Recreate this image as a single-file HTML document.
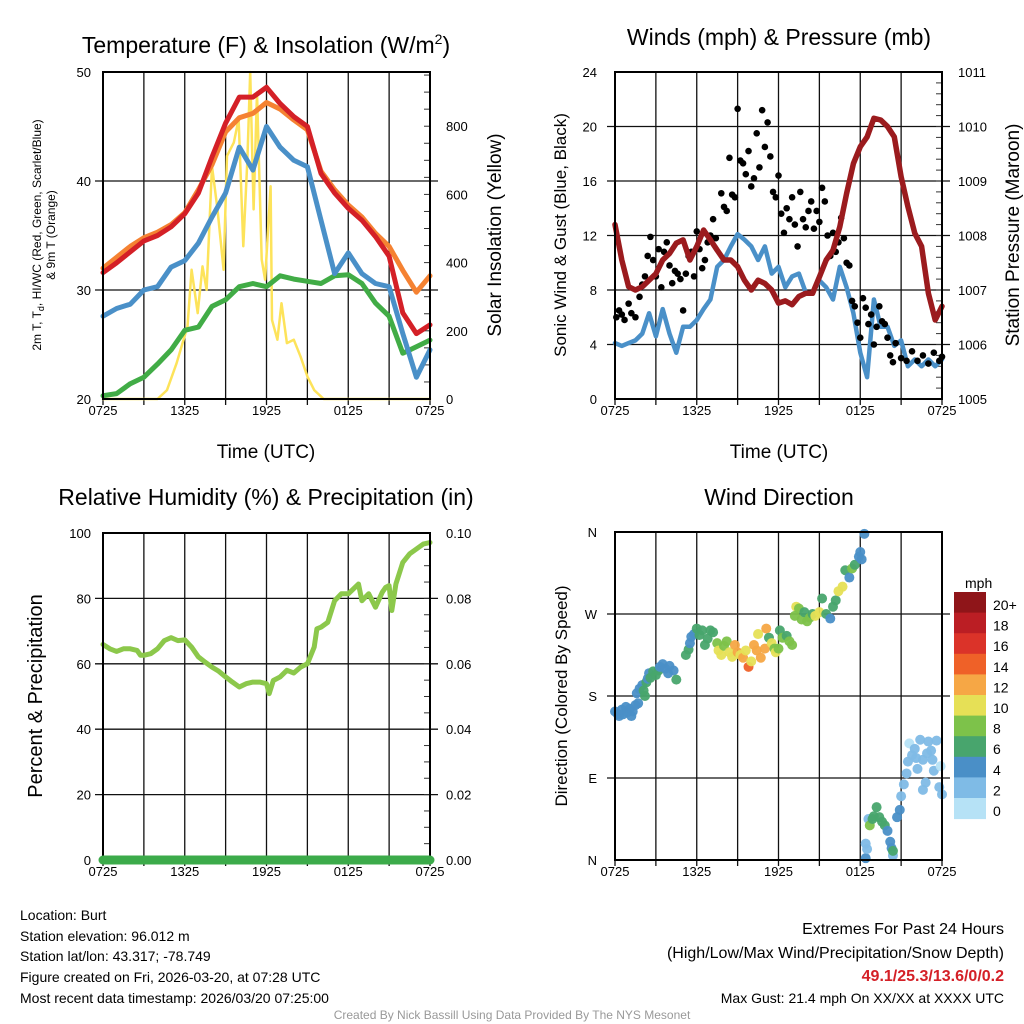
<!DOCTYPE html>
<html><head><meta charset="utf-8">
<style>
html,body{margin:0;padding:0;background:#fff;}
svg{display:block;font-family:"Liberation Sans",sans-serif;}
</style></head>
<body>
<svg id="c" width="1024" height="1024" viewBox="0 0 1024 1024" xmlns="http://www.w3.org/2000/svg">
<rect width="1024" height="1024" fill="#fff"/>
<g id="layer"></g>
<text x="266" y="53" font-size="23" text-anchor="middle">Temperature (F) &amp; Insolation (W/m<tspan dy="-9" font-size="14">2</tspan><tspan dy="9">)</tspan></text>
<text x="779" y="45" font-size="23" text-anchor="middle">Winds (mph) &amp; Pressure (mb)</text>
<text x="266" y="505" font-size="23" text-anchor="middle">Relative Humidity (%) &amp; Precipitation (in)</text>
<text x="779" y="505" font-size="23" text-anchor="middle">Wind Direction</text>
<text x="266" y="458" font-size="19" text-anchor="middle">Time (UTC)</text>
<text x="779" y="458" font-size="19" text-anchor="middle">Time (UTC)</text>
<g font-size="12">
<text transform="translate(41,235) rotate(-90)" text-anchor="middle">2m T, T<tspan dy="3" font-size="9">d</tspan><tspan dy="-3">, HI/WC (Red, Green, Scarlet/Blue)</tspan></text>
<text transform="translate(55,235) rotate(-90)" text-anchor="middle">&amp; 9m T (Orange)</text>
</g>
<text transform="translate(501,235) rotate(-90)" font-size="19" text-anchor="middle">Solar Insolation (Yellow)</text>
<text transform="translate(566,235) rotate(-90)" font-size="17" text-anchor="middle">Sonic Wind &amp; Gust (Blue, Black)</text>
<text transform="translate(1019,235) rotate(-90)" font-size="19" text-anchor="middle">Station Pressure (Maroon)</text>
<text transform="translate(42,696) rotate(-90)" font-size="20" text-anchor="middle">Percent &amp; Precipitation</text>
<text transform="translate(567,696) rotate(-90)" font-size="17" text-anchor="middle">Direction (Colored By Speed)</text>
<text x="965" y="588" font-size="14">mph</text>
<g font-size="14">
<text x="20" y="920">Location: Burt</text>
<text x="20" y="941">Station elevation: 96.012 m</text>
<text x="20" y="961">Station lat/lon: 43.317; -78.749</text>
<text x="20" y="982">Figure created on Fri, 2026-03-20, at 07:28 UTC</text>
<text x="20" y="1003">Most recent data timestamp: 2026/03/20 07:25:00</text>
</g>
<g text-anchor="end">
<text x="1004" y="934" font-size="16">Extremes For Past 24 Hours</text>
<text x="1004" y="958" font-size="16">(High/Low/Max Wind/Precipitation/Snow Depth)</text>
<text x="1004" y="981" font-size="16" font-weight="bold" fill="#d42027">49.1/25.3/13.6/0/0.2</text>
<text x="1004" y="1003" font-size="14">Max Gust: 21.4 mph On XX/XX at XXXX UTC</text>
</g>
<text x="512" y="1019" font-size="12" fill="#999" text-anchor="middle">Created By Nick Bassill Using Data Provided By The NYS Mesonet</text>
</svg>
<script>
const hours = [0,1,2,3,4,5,6,7,8,9,10,11,12,13,14,15,16,17,18,19,20,21,22,23,24];
const tempRed = [31.6,32.5,33.5,34.5,35,35.8,37,38.9,42.2,45.3,47.7,47.7,48.6,47.1,45.9,45,40.7,38.9,37.5,36.4,34.9,33.1,27.9,26,26.8];
const tempOrange = [32,33,34,34.8,35.3,36,37.1,39.2,41.5,44.5,45.8,46.2,47.2,46.6,45.6,44.7,40.9,39.2,37.8,36.7,35.2,34,31.8,29.8,31.3];
const tempBlue = [27.6,28.3,28.7,30,30.3,32.1,32.7,34.3,36.7,38.9,43.1,41,45,43.1,41.9,41.3,36.4,31.5,33.4,31.5,30.6,30.3,26,22,24.5];
const dewGreen = [20.3,20.5,21.4,22,23.2,24.5,26.3,26.6,28.5,29.1,30.3,30.6,30.3,31.3,31,30.8,30.6,31.3,31.4,30.6,28.8,27.6,24.2,24.8,25.4];
const solarHours = [0,4,4.7,5.4,6.2,6.5,6.95,7.3,7.6,8,8.4,8.85,9.1,9.6,9.95,10.3,10.6,10.8,11.05,11.3,11.65,11.9,12.3,12.4,12.8,13.1,13.5,14,14.5,15,15.5,16.2,24];
const solarWm2 = [0,0,26,105,213,379,252,389,320,683,556,379,713,752,821,448,703,959,556,899,409,350,624,232,174,281,164,174,124,66,26,0,0];
const presHours = [0,0.5,1,1.5,2,2.5,3,3.5,4,4.5,5,5.5,6,6.5,7,7.5,8,8.5,9,9.5,10,10.5,11,11.5,12,12.5,13,13.5,14,14.5,15,15.5,16,16.5,17,17.5,18,18.5,19,19.5,20,20.5,21,21.5,22,22.5,23,23.5,24];
const pressureMb = [1008.2,1007.55,1007.06,1007,1007.06,1007.18,1007.3,1007.55,1007.67,1007.86,1007.92,1007.55,1007.8,1008.1,1007.92,1007.73,1007.55,1007.55,1007.43,1007.18,1007,1007.18,1007.12,1007,1006.76,1006.8,1006.73,1006.88,1006.94,1006.94,1007.24,1007.55,1007.73,1008.16,1008.77,1009.32,1009.63,1009.81,1010.15,1010.12,1010,1009.81,1009.08,1008.53,1008.04,1007.8,1006.94,1006.45,1006.7];
const windMph = [4.1,3.9,4.1,4.3,4.8,6.3,4.6,6.6,4.8,3.4,5.3,5.3,5.8,6.6,7.3,9.7,10.2,11.2,12.1,11.7,11.2,10.2,11.2,9.2,9.7,8.2,9,9.2,7.8,7.8,8.7,8.2,7.3,9.7,8.2,6.3,3.4,1.6,7.3,5.3,5.3,3.9,4.3,2.4,2.9,2.4,2.9,2.4,2.9];
const gustHours = [0.1,0.3,0.5,0.7,1,1.2,1.5,1.8,2,2.2,2.4,2.6,2.8,3,3.2,3.4,3.6,3.8,4,4.2,4.4,4.6,4.8,5,5.2,5.4,5.6,5.8,6,6.2,6.4,6.6,6.8,7,7.2,7.4,7.8,8,8.2,8.4,8.6,8.8,9,9.2,9.4,9.6,9.8,10,10.2,10.4,10.6,10.8,11,11.2,11.4,11.6,11.8,12,12.2,12.4,12.6,12.8,13,13.2,13.4,13.6,13.8,14,14.2,14.4,14.6,14.8,15,15.2,15.4,15.6,15.8,16,16.2,16.4,16.6,16.8,17,17.2,17.4,17.6,17.8,18,18.2,18.4,18.6,18.8,19,19.2,19.4,19.6,19.8,20,20.2,20.4,20.6,21,21.4,21.8,22.2,22.6,23,23.4,23.8,24];
const gustMph = [6,6.5,6.2,5.8,7,6.3,6,7.5,8.4,9,10.5,11.9,10.2,9,11,8.2,10.8,11.5,9.8,8.5,9.4,9.2,8.8,6.5,9.2,10.5,10.8,9,12.3,11,9.6,10.2,11.5,12,13.2,11.8,15.1,14.1,13.8,17.7,15,14.8,21.3,17.5,17.3,16.5,18.2,15.6,16.2,19.5,17,21.2,18.5,20.3,17.8,15.2,14.8,16.4,13.6,12.2,14,13.2,14.8,12.8,11.2,15.2,13.2,12.6,13.8,14.5,12.5,13.8,13,15.5,14.5,12,10.5,12.2,10.8,11.5,13.3,11.8,10,9.8,7.2,6.8,5.6,4.5,7.4,6.7,5.5,6.2,4,5.3,6.8,5.7,5.5,4.5,3.2,2.7,4.1,3,2.8,3.5,2.8,3.2,2.6,3.4,2.8,3.1];
const rhHours = [0,0.5,1,1.5,2,2.5,2.75,3,3.5,4,4.5,5,5.5,6,6.5,7,7.5,8,8.5,9,9.5,10,10.5,11,11.5,12,12.2,12.5,13,13.5,14,14.5,15,15.5,15.7,16,16.5,17,17.5,18,18.5,18.75,19,19.5,20,20.5,20.75,21,21.2,21.5,22,22.5,23,23.5,24];
const rhPct = [65.9,64.6,63.8,64.6,64.6,64.1,62.6,62.6,63.1,64.6,67.1,68,67.1,67.3,65.1,62.1,60.5,59,57.7,56,54.4,52.9,53.9,54.4,54.4,53.9,50.9,54.9,56,58,57.2,59,60,65.1,70.7,71.2,72.7,79.3,81.4,81.4,83.4,84.4,79.3,81.4,77.3,81.9,83.4,83.9,76.3,84.4,91,93.6,95.1,96.6,97.1];
const precipIn = [0,0];
const precipHours = [0,24];
const dirHours = [0,0.2,0.3,0.5,0.6,0.8,0.9,1.1,1.2,1.3,1.5,1.7,1.6,1.8,2,2.1,2.2,2.3,2.4,2.5,2.6,2.8,3,3.2,3.3,3.5,3.7,3.9,4,4.3,4.5,5.2,5.4,5.5,5.6,5.8,6,6.2,6.4,6.6,6.8,7,7.2,7.5,7.6,7.8,8,8.2,8.4,8.6,8.8,9,9.2,9.4,9.6,9.8,10,10.2,10.4,10.5,10.7,11,11.1,11.3,11.5,11.7,11.8,12,12.1,12.3,12.6,12.8,13,13.3,13.2,13.5,13.7,13.9,14.1,14.3,14.5,14.7,15,15.2,15.5,15.8,16,16.2,16.4,16.7,16.9,17.2,17.4,17.6,17.9,18,18.1,18.3,18.4,18.5,18.4,18.6,18.7,18.9,19,19.2,19.4,19.6,19.8,20,20.2,20.3,20.4,20.4,20.7,20.9,21,21.2,21.4,21.5,21.6,21.8,22,22.2,22.4,22.6,22.8,23,23.2,23.4,23.6,23.8,23.9,24,22.6,22.9,23.3,22.1];
const dirDeg = [163,160,158,165,160,168,162,166,158,163,170,172,183,188,192,186,180,195,199,205,200,207,203,208,212,215,210,205,213,208,198,225,231,238,245,248,254,247,252,236,243,252,250,238,230,225,235,240,228,223,236,228,225,222,230,212,218,236,230,248,222,232,254,244,238,232,228,232,252,244,246,240,236,278,268,276,264,272,262,266,270,268,272,287,270,265,278,285,295,300,318,310,320,324,333,338,330,358,2,12,18,45,38,45,48,58,47,42,38,32,20,13,5,10,47,55,70,83,95,108,128,115,122,100,132,110,85,130,120,98,131,80,103,72,77,117,110,112];
const dirSpeed = [4,4,4,4,4,4,4,4,4,4,4,4,4,4,4,6,6,6,4,4,6,6,6,6,4,4,4,4,4,4,6,6,6,4,4,4,6,6,6,6,6,6,6,8,10,10,8,8,10,10,12,12,10,12,10,14,10,12,12,10,12,12,12,6,10,8,10,8,6,8,6,8,8,10,8,8,8,6,8,8,6,10,10,6,6,4,6,6,10,10,6,4,8,6,4,4,4,4,4,2,2,2,8,6,6,6,6,6,6,4,4,4,2,6,4,4,2,2,2,2,0,2,2,2,2,2,2,2,2,2,2,2,0,2,2,2,2,2];
const speedColors = ["#b6e2f6","#7fbbe6","#4a8fc7","#48a56d","#7dc24a","#e6e056","#f6a745","#ef6128","#db3329","#bb1e24","#8f1519"];
const speedLabels = ["0","2","4","6","8","10","12","14","16","18","20+"];
const timeLabels = ["0725","1325","1925","0125","0725"];

const NS="http://www.w3.org/2000/svg";
const layer=document.getElementById('layer');
function mk(tag,attrs,parent){const e=document.createElementNS(NS,tag);for(const k in attrs)e.setAttribute(k,attrs[k]);(parent||layer).appendChild(e);return e;}
function lin(d0,d1,r0,r1){return v=>r0+(v-d0)/(d1-d0)*(r1-r0);}

function panel(name){
  const g=mk('g',{});
  
  
  return g;
}
function frame(g,x0,x1,y0,y1,hGridYs,name){
  for(let i=0;i<=8;i++){const x=x0+(x1-x0)*i/8;
    const l=mk('line',{x1:x,x2:x,y1:y0,y2:y1+6,stroke:'#111','stroke-width':1.3},g);
    
    }
  hGridYs.forEach(y=>{const l=mk('line',{x1:x0-8,x2:x1+8,y1:y,y2:y,stroke:'#111','stroke-width':1.3},g);
    
    });
  timeLabels.forEach((t,i)=>{const x=x0+(x1-x0)*i/4;
    const tx=mk('text',{x:x,y:y1+16,'font-size':13,'text-anchor':'middle'},g);tx.textContent=t;
    
    });
}
function border(g,x0,x1,y0,y1,name){
  const r=mk('rect',{x:x0,y:y0,width:x1-x0,height:y1-y0,fill:'none',stroke:'#000','stroke-width':2},g);
  
  
}
function path(g,xs,ys,fx,fy,color,w,name){
  let d='';xs.forEach((h,i)=>{d+=(i?'L':'M')+fx(h).toFixed(1)+','+fy(ys[i]).toFixed(1);});
  const p=mk('path',{d:d,fill:'none',stroke:color,'stroke-width':w,'stroke-linejoin':'round','stroke-linecap':'round'},g);
  
  
  return p;
}
function ticks(g,vals,fy,x,anchor,fmt,name,minor,xt){
  vals.forEach(v=>{const t=mk('text',{x:x,y:fy(v)+5,'font-size':13,'text-anchor':anchor},g);t.textContent=fmt(v);
    
    });
  if(minor){minor.forEach(v=>{mk('line',{x1:xt,x2:xt-6,y1:fy(v),y2:fy(v),stroke:'#333','stroke-width':1},g);});}
}

// Panel 1
(function(){
  const x0=103,x1=430,y0=72,y1=399;
  const g=panel('temperature-panel');
  const fx=lin(0,24,x0,x1), fy=lin(20,50,y1,y0), fs=lin(0,959,y1,y0);
  frame(g,x0,x1,y0,y1,[fy(30),fy(40)],'temp');
  ticks(g,[20,30,40,50],fy,91,'end',v=>v,'temp-y-tick-label');
  const mn=[];for(let v=0;v<=950;v+=50)mn.push(v);
  ticks(g,[0,200,400,600,800],fs,446,'start',v=>v,'insolation-tick-label',mn,x1);
  path(g,solarHours,solarWm2,fx,fs,'#fde35a',2.5,'insolation-line');
  path(g,hours,dewGreen,fx,fy,'#41ac46',5,'dewpoint-line');
  path(g,hours,tempBlue,fx,fy,'#4a90c8',5,'windchill-line');
  path(g,hours,tempOrange,fx,fy,'#f58232',5,'temp-9m-line');
  path(g,hours,tempRed,fx,fy,'#d42027',5,'temp-2m-line');
  border(g,x0,x1,y0,y1,'temp');
})();
// Panel 2
(function(){
  const x0=615,x1=942,y0=72,y1=399;
  const g=panel('wind-panel');
  const fx=lin(0,24,x0,x1), fy=lin(0,24,y1,y0), fp=lin(1005,1011,y1,y0);
  frame(g,x0,x1,y0,y1,[4,8,12,16,20].map(fy),'wind');
  ticks(g,[0,4,8,12,16,20,24],fy,597,'end',v=>v,'wind-y-tick-label');
  const mn=[];for(let v=1005;v<=1011;v+=0.2)mn.push(v);
  ticks(g,[1005,1006,1007,1008,1009,1010,1011],fp,958,'start',v=>v,'pressure-tick-label',mn,x1);
  path(g,presHours,windMph,fx,fy,'#4a90c8',4.5,'wind-speed-line');
  gustHours.forEach((h,i)=>{const c=mk('circle',{cx:fx(h),cy:fy(gustMph[i]),r:3.3,fill:'#000'},g);
    
    });
  path(g,presHours,pressureMb,fx,fp,'#9b1b1e',5.5,'pressure-line');
  border(g,x0,x1,y0,y1,'wind');
})();
// Panel 3
(function(){
  const x0=103,x1=430,y0=533,y1=860;
  const g=panel('humidity-panel');
  const fx=lin(0,24,x0,x1), fy=lin(0,100,y1,y0), fpr=lin(0,0.1,y1,y0);
  frame(g,x0,x1,y0,y1,[20,40,60,80].map(fy),'rh');
  ticks(g,[0,20,40,60,80,100],fy,91,'end',v=>v,'rh-y-tick-label');
  const mn=[];for(let v=0;v<=0.1;v+=0.005)mn.push(v);
  ticks(g,[0,0.02,0.04,0.06,0.08,0.1],fpr,446,'start',v=>v.toFixed(2),'precip-tick-label',mn,x1);
  path(g,rhHours,rhPct,fx,fy,'#8cc84b',5,'rh-line');
  border(g,x0,x1,y0,y1,'rh');
  path(g,precipHours,precipIn,fx,fpr,'#3cab4a',9,'precip-line');
})();
// Panel 4
(function(){
  const x0=615,x1=942,y0=532,y1=860;
  const g=panel('wind-direction-panel');
  const fx=lin(0,24,x0,x1), fy=lin(0,360,y1,y0);
  frame(g,x0,x1,y0,y1,[90,180,270].map(fy),'wdir');
  const dl=['N','E','S','W','N'];
  [0,90,180,270,360].forEach((v,i)=>{const t=mk('text',{x:597,y:fy(v)+5,'font-size':13,'text-anchor':'end'},g);t.textContent=dl[i];
    
    });
  dirHours.forEach((h,i)=>{const bin=Math.min(10,Math.floor(dirSpeed[i]/2));
    const c=mk('circle',{cx:fx(h),cy:fy(dirDeg[i]),r:5,fill:speedColors[bin],'fill-opacity':0.95},g);
    
    });
  border(g,x0,x1,y0,y1,'wdir');
  const cb=mk('g',{});
  
  
  const top=592,bh=20.6;
  for(let i=0;i<11;i++){const idx=10-i;
    const r=mk('rect',{x:954,y:top+i*bh,width:32,height:bh+0.5,fill:speedColors[idx]},cb);
    
    
    const t=mk('text',{x:993,y:top+i*bh+18,'font-size':14},cb);t.textContent=speedLabels[idx];
    
    }
})();
</script>
</body></html>
